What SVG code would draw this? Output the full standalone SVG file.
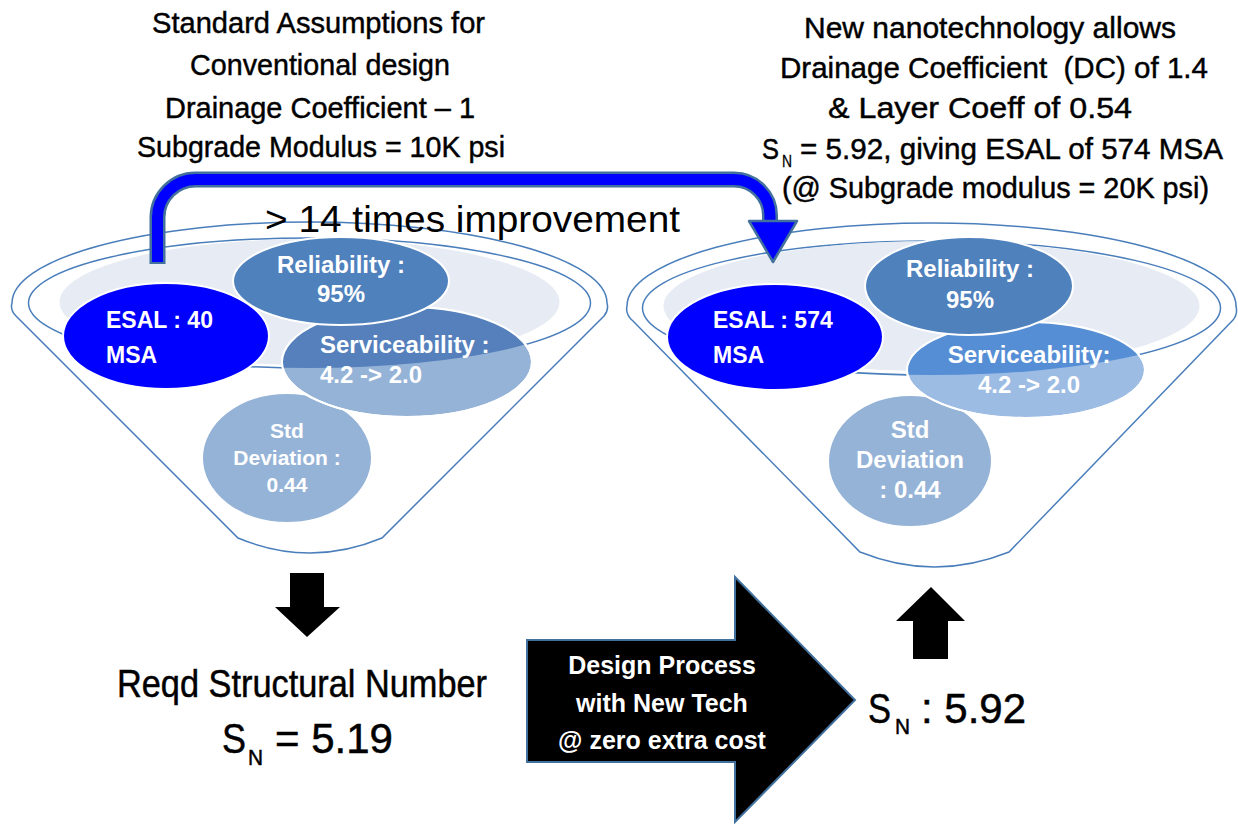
<svg xmlns="http://www.w3.org/2000/svg" width="1238" height="824" viewBox="0 0 1238 824">
<style>
.rim{fill:none;stroke:#4A7EBB;stroke-width:1.5}
.gray{fill:#E6EBF4}
.nd{stroke:#FFFFFF;stroke-width:2}
.lbl{font-family:"Liberation Sans",Arial,sans-serif;font-weight:bold;fill:#FFFFFF}
.ttl{font-family:"Liberation Sans",Arial,sans-serif;font-size:30px;fill:#000000;stroke:#000000;stroke-width:0.45}
.big{font-family:"Liberation Sans",Arial,sans-serif;fill:#000000}
.thk{stroke:#000000;stroke-width:0.5}
.blk{fill:#000000}
</style>
<defs>
<clipPath id="clipL"><ellipse cx="309.5" cy="303" rx="281" ry="65"/></clipPath>
<clipPath id="clipR"><ellipse cx="931.5" cy="308" rx="289" ry="67"/></clipPath>
</defs>
<rect width="1238" height="824" fill="#FFFFFF"/>

<g id="title-left">
<text class="ttl" x="152" y="33" textLength="333" lengthAdjust="spacingAndGlyphs">Standard Assumptions for</text>
<text class="ttl" x="190" y="75" textLength="260" lengthAdjust="spacingAndGlyphs">Conventional design</text>
<text class="ttl" x="165" y="118" textLength="310" lengthAdjust="spacingAndGlyphs">Drainage Coefficient – 1</text>
<text class="ttl" x="137" y="157" textLength="368" lengthAdjust="spacingAndGlyphs">Subgrade Modulus = 10K psi</text>
</g>

<g id="title-right">
<text class="ttl" x="804" y="38" textLength="372" lengthAdjust="spacingAndGlyphs">New nanotechnology allows</text>
<text class="ttl" x="780" y="78" textLength="428" lengthAdjust="spacingAndGlyphs" xml:space="preserve">Drainage Coefficient  (DC) of 1.4</text>
<text class="ttl" x="828" y="118" textLength="304" lengthAdjust="spacingAndGlyphs">&amp; Layer Coeff of 0.54</text>
<text class="ttl" x="762" y="159" textLength="17" lengthAdjust="spacingAndGlyphs">S</text>
<text class="ttl" x="782" y="167" style="font-size:17px;stroke-width:0.3" textLength="10" lengthAdjust="spacingAndGlyphs">N</text>
<text class="ttl" x="800" y="159" style="font-size:29px" textLength="423" lengthAdjust="spacingAndGlyphs">= 5.92, giving ESAL of 574 MSA</text>
<text class="ttl" x="782" y="198" style="font-size:29px" textLength="427" lengthAdjust="spacingAndGlyphs">(@ Subgrade modulus = 20K psi)</text>
</g>

<g id="funnel-left">
<path class="rim" d="M12 303 A297.5 81 0 0 1 607 303 Q609 310 604 316 L382 538 Q310 568 238 538 L16 316 Q10 310 12 303 Z" fill="#FFFFFF"/>
<ellipse class="rim" cx="309.5" cy="303" rx="281" ry="65"/>
<ellipse class="gray" cx="309.5" cy="302" rx="250" ry="63"/>
</g>

<g id="funnel-right">
<path class="rim" d="M627 306 A304.5 83 0 0 1 1236 306 Q1238 314 1233 320 L1009 552 Q934.5 582 860 552 L633 321 Q625 314 627 306 Z" fill="#FFFFFF"/>
<ellipse class="rim" cx="931.5" cy="308" rx="289" ry="67"/>
<ellipse class="gray" cx="931.5" cy="306" rx="268" ry="65"/>
</g>

<g id="std-left">
<ellipse class="nd" cx="287" cy="458" rx="85" ry="65" fill="#95B3D7"/>
<text class="lbl" text-anchor="middle" style="font-size:21px"><tspan x="287" y="438">Std</tspan><tspan x="287" y="465">Deviation :</tspan><tspan x="287" y="492">0.44</tspan></text>
</g>
<g id="serv-left">
<ellipse class="nd" cx="407" cy="362" rx="125" ry="55" fill="#95B3D7"/>
<ellipse cx="407" cy="362" rx="125" ry="55" fill="#5580BC" clip-path="url(#clipL)"/>
<ellipse cx="407" cy="362" rx="125" ry="55" fill="none" stroke="#FFFFFF" stroke-width="2"/>
<text class="lbl" style="font-size:24px"><tspan x="320" y="353">Serviceability :</tspan><tspan x="320" y="383">4.2 -&gt; 2.0</tspan></text>
</g>
<g id="rel-left">
<ellipse class="nd" cx="341" cy="281" rx="108" ry="44" fill="#4F81BD"/>
<text class="lbl" text-anchor="middle" style="font-size:24px"><tspan x="341" y="273">Reliability :</tspan><tspan x="341" y="302">95%</tspan></text>
</g>
<g id="esal-left">
<ellipse class="nd" cx="166" cy="336" rx="103" ry="53" fill="#0000FF"/>
<text class="lbl" style="font-size:23px"><tspan x="106" y="328">ESAL : 40</tspan><tspan x="106" y="363">MSA</tspan></text>
</g>

<g id="std-right">
<ellipse class="nd" cx="910" cy="461" rx="82" ry="66" fill="#95B3D7"/>
<text class="lbl" text-anchor="middle" style="font-size:24px"><tspan x="910" y="438">Std</tspan><tspan x="910" y="468">Deviation</tspan><tspan x="910" y="498">: 0.44</tspan></text>
</g>
<g id="serv-right">
<ellipse class="nd" cx="1026" cy="370" rx="119" ry="48" fill="#9DBCE4"/>
<ellipse cx="1026" cy="370" rx="119" ry="48" fill="#558ED5" clip-path="url(#clipR)"/>
<ellipse cx="1026" cy="370" rx="119" ry="48" fill="none" stroke="#FFFFFF" stroke-width="2"/>
<text class="lbl" text-anchor="middle" style="font-size:24px"><tspan x="1029" y="363">Serviceability:</tspan><tspan x="1029" y="393">4.2 -&gt; 2.0</tspan></text>
</g>
<g id="rel-right">
<ellipse class="nd" cx="969" cy="286" rx="104" ry="49" fill="#4F81BD"/>
<text class="lbl" text-anchor="middle" style="font-size:24px"><tspan x="970" y="277">Reliability :</tspan><tspan x="970" y="308">95%</tspan></text>
</g>
<g id="esal-right">
<ellipse class="nd" cx="775" cy="337" rx="108" ry="53" fill="#0000FF"/>
<text class="lbl" style="font-size:23px"><tspan x="713" y="328">ESAL : 574</tspan><tspan x="713" y="363">MSA</tspan></text>
</g>

<g id="improvement-label">
<text class="big" x="265" y="232" style="font-size:37px" textLength="415" lengthAdjust="spacingAndGlyphs">&gt; 14 times improvement</text>
</g>

<g id="design-process">
<polygon points="527,640 735,640 735,577 855,700 735,822 735,762 527,762" fill="#000000" stroke="#41719C" stroke-width="2"/>
<text class="lbl" text-anchor="middle" style="font-size:25px"><tspan x="662" y="674">Design Process</tspan><tspan x="662" y="712">with New Tech</tspan><tspan x="662" y="749">@ zero extra cost</tspan></text>
</g>

<g id="sn-left">
<text class="big thk" x="117" y="697" style="font-size:39px" textLength="370" lengthAdjust="spacingAndGlyphs">Reqd Structural Number</text>
<text class="big thk" x="222" y="753" style="font-size:42px" textLength="24" lengthAdjust="spacingAndGlyphs">S</text>
<text class="big thk" x="248" y="765" style="font-size:22px" textLength="15" lengthAdjust="spacingAndGlyphs">N</text>
<text class="big thk" x="275" y="753" style="font-size:42px">= 5.19</text>
</g>

<g id="sn-right">
<text class="big thk" x="868" y="723" style="font-size:42px" textLength="23" lengthAdjust="spacingAndGlyphs">S</text>
<text class="big thk" x="895" y="734" style="font-size:22px" textLength="15" lengthAdjust="spacingAndGlyphs">N</text>
<text class="big thk" x="921" y="723" style="font-size:42px">: 5.92</text>
</g>

<g id="connectors">
<path d="M157.5 264 V217.5 A38 38 0 0 1 195.5 179.5 H734 A36 36 0 0 1 770 215.5 V224" fill="none" stroke="#41719C" stroke-width="16"/>
<path d="M157.5 262 V217.5 A38 38 0 0 1 195.5 179.5 H734 A36 36 0 0 1 770 215.5 V226" fill="none" stroke="#0000FF" stroke-width="11"/>
<polygon points="749,221 797,221 773,262" fill="#0000FF" stroke="#41719C" stroke-width="2.5" stroke-linejoin="round"/>
<polygon class="blk" points="290,573 324,573 324,607 340,607 307,637 275,607 290,607"/>
<polygon class="blk" points="913,659 948,659 948,621 965,621 931,587 896,621 913,621"/>
</g>
</svg>
